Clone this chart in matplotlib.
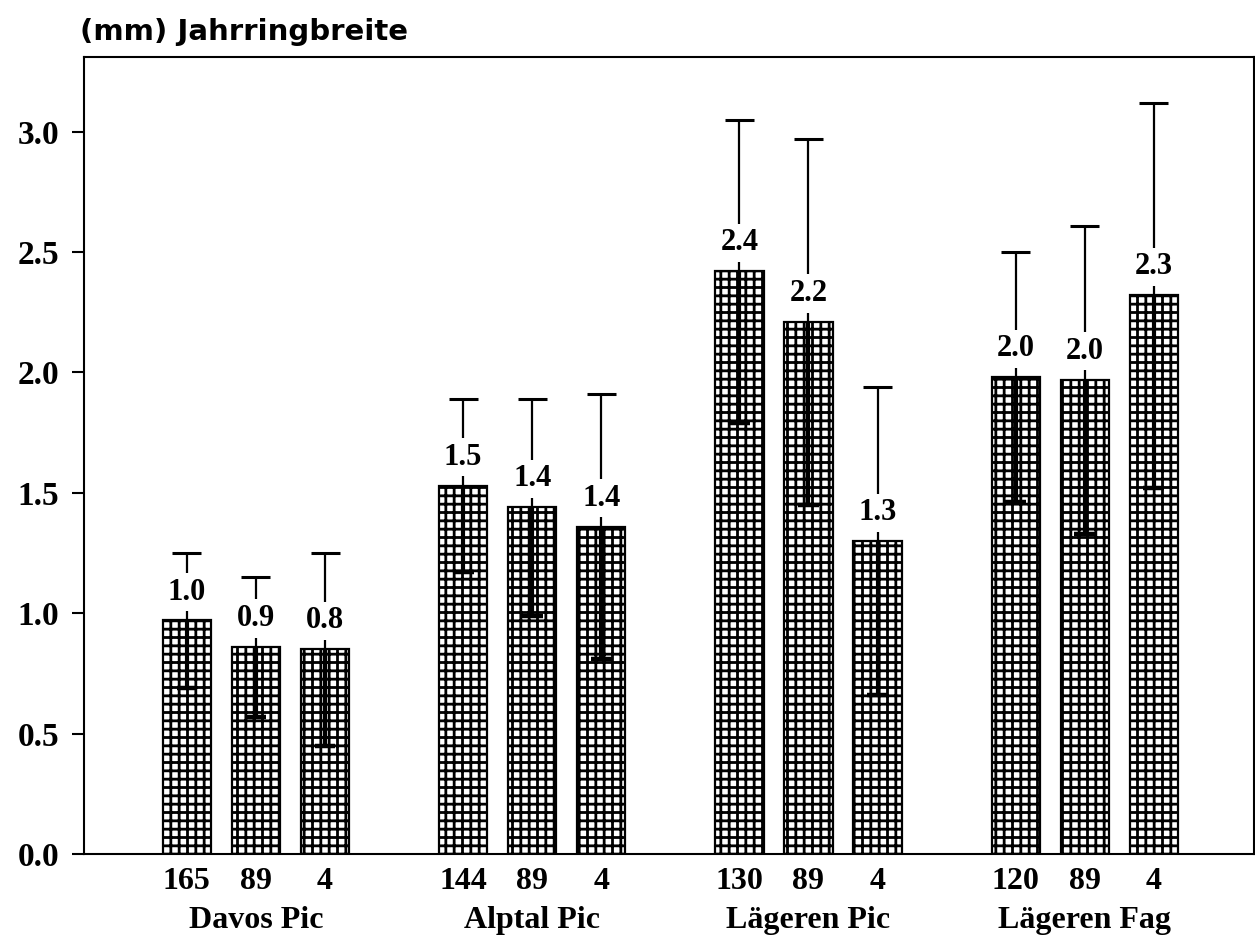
import numpy as np
import matplotlib
matplotlib.use("Agg")
import matplotlib.pyplot as plt

# Jahrringbreite je Standort und Altersklasse
standorte = ["Davos Pic", "Alptal Pic", "Lägeren Pic", "Lägeren Fag"]
anzahl = ["165", "89", "4", "144", "89", "4", "130", "89", "4", "120", "89", "4"]
mittel = [0.97, 0.86, 0.85, 1.53, 1.44, 1.36, 2.42, 2.21, 1.30, 1.98, 1.97, 2.32]
stdabw = [0.28, 0.29, 0.40, 0.36, 0.45, 0.55, 0.63, 0.76, 0.64, 0.52, 0.64, 0.80]
werte_text = ["1.0", "0.9", "0.8", "1.5", "1.4", "1.4", "2.4", "2.2", "1.3", "2.0", "2.0", "2.3"]

plt.rcParams["font.family"] = ["Liberation Serif", "DejaVu Sans"]
plt.rcParams["font.weight"] = "bold"
plt.rcParams["hatch.linewidth"] = 2.0

fig = plt.figure(figsize=(12.55, 9.42), dpi=100)
ax = fig.add_axes([0.0669, 0.0934, 0.9323, 0.8461])

# Positionen: 3 Balken pro Gruppe, Lücke zwischen Gruppen
x = np.array([g * 4 + i for g in range(4) for i in range(3)], dtype=float)
m = np.array(mittel)
s = np.array(stdabw)

ax.bar(x, m, width=0.70, color="white", edgecolor="black",
       hatch="++", linewidth=1.6, zorder=2)

# Fehlerbalken: oben dünn mit T, im Balken dick mit kurzem Querstrich
ax.vlines(x, m, m + s, color="black", lw=1.6, zorder=3)
ax.vlines(x, m - s, m, color="black", lw=3.0, zorder=3)
ax.hlines(m + s, x - 0.21, x + 0.21, color="black", lw=2.2, zorder=3)
ax.hlines(m - s, x - 0.15, x + 0.15, color="black", lw=3.2, zorder=3)

for xi, mi, t in zip(x, m, werte_text):
    ax.annotate(t, (xi, mi), xytext=(0, 10), textcoords="offset points",
                ha="center", va="bottom", fontsize=22, fontweight="bold",
                bbox=dict(boxstyle="square,pad=0.15", fc="white", ec="none"),
                zorder=4)

ax.set_xlim(-1.49, 15.45)
ax.set_ylim(0, 3.31)
ax.set_yticks(np.arange(0, 3.01, 0.5))
ax.set_yticklabels([f"{v:.1f}" for v in np.arange(0, 3.01, 0.5)], fontsize=24)
ax.tick_params(axis="y", direction="out", length=9, width=1.5, pad=9)

ax.set_xticks(x)
ax.set_xticklabels(anzahl, fontsize=23)
ax.tick_params(axis="x", length=0, pad=9)

for g, name in enumerate(standorte):
    ax.text(g * 4 + 1, -0.275, name, ha="center", va="center", fontsize=23,
            fontweight="bold", clip_on=False)

for sp in ax.spines.values():
    sp.set_linewidth(1.5)

fig.text(0.064, 0.966, "(mm) Jahrringbreite", ha="left", va="center",
         fontsize=21, fontweight="bold", family="DejaVu Sans")

fig.savefig("out.png", dpi=100)
